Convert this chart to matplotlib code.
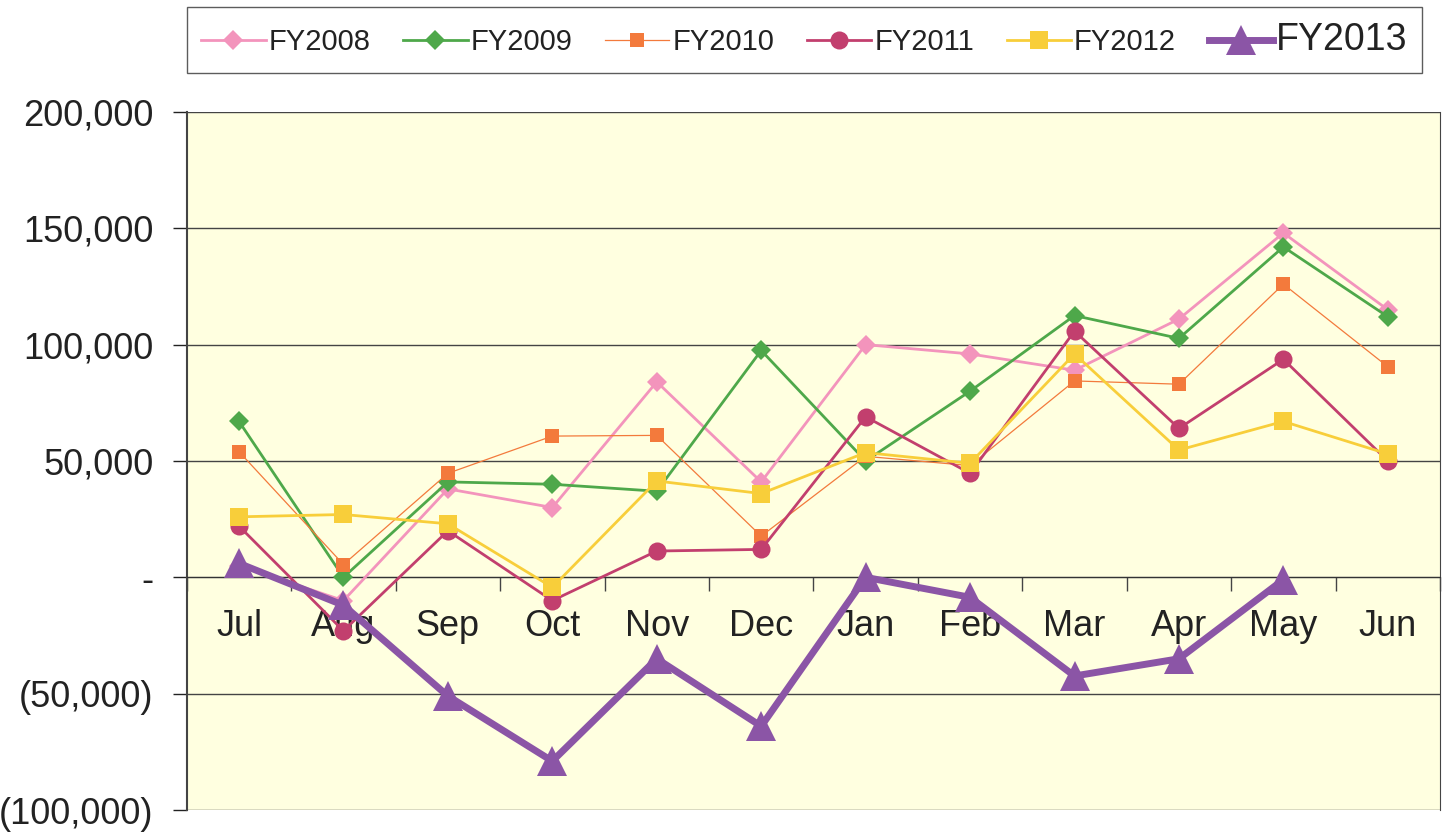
import numpy as np
import matplotlib
matplotlib.use('Agg')
import matplotlib.pyplot as plt
from matplotlib.ticker import FuncFormatter, FixedLocator

plt.rcParams['font.family'] = ['Liberation Sans', 'DejaVu Sans']

months = ['Jul', 'Aug', 'Sep', 'Oct', 'Nov', 'Dec', 'Jan', 'Feb', 'Mar', 'Apr', 'May', 'Jun']

fy2008 = [5000, -10000, 38000, 30000, 84000, 41000, 100000, 96000, 89000, 111000, 148000, 115000]
fy2009 = [67000, 0, 41000, 40000, 37000, 97500, 50000, 80000, 112500, 102700, 142000, 112000]
fy2010 = [54000, 5500, 44700, 60700, 61000, 17700, 52000, 48000, 84400, 83000, 126000, 90500]
fy2011 = [22000, -23000, 20000, -10000, 11300, 12000, 69000, 44700, 105800, 64000, 93700, 50000]
fy2012 = [26000, 27000, 23000, -4300, 41400, 36000, 53600, 49000, 96000, 54700, 67000, 53000]
fy2013 = [6000, -12000, -51000, -79000, -35000, -64000, 0, -8600, -42400, -35000, -1000, np.nan]

x = np.arange(len(months))

fig = plt.figure(figsize=(14.48, 8.33), dpi=100)
ax = fig.add_axes([0.129, 0.0276, 0.8655, 0.838])
ax.set_facecolor('#FFFFE0')

# series: data, label, colour, marker, marker size, line width
series = [
    (fy2008, 'FY2008', '#F394BC', 'D', 10, 2.0),
    (fy2009, 'FY2009', '#4EA84A', 'D', 10, 2.0),
    (fy2010, 'FY2010', '#F37A3C', 's', 10, 0.9),
    (fy2011, 'FY2011', '#C23F6E', 'o', 13, 2.0),
    (fy2012, 'FY2012', '#F8CE3A', 's', 13, 2.0),
    (fy2013, 'FY2013', '#8B55A6', '^', 22, 5.0),
]
for vals, lab, col, mk, ms, lw in series:
    ax.plot(x, vals, color=col, marker=mk, markersize=ms, linewidth=lw,
            markeredgewidth=0, label=lab, zorder=3)

ax.set_xlim(-0.5, 11.5)
ax.set_ylim(-100000, 200000)
ax.set_yticks(np.arange(-100000, 200001, 50000))


def fmt(v, pos):
    if abs(v) < 1:
        return '-'
    if v < 0:
        return '({:,.0f})'.format(-v)
    return '{:,.0f}'.format(v)


ax.yaxis.set_major_formatter(FuncFormatter(fmt))
ax.tick_params(axis='y', labelsize=26, length=10, width=1, colors='#222222', pad=14)
ax.grid(axis='y', color='#444444', linewidth=1.0, zorder=1)

# month labels just under the zero line, tick marks at category boundaries
ax.spines['bottom'].set_position(('data', 0))
ax.xaxis.set_major_locator(FixedLocator(np.arange(-0.5, 12, 1)))
ax.xaxis.set_minor_locator(FixedLocator(x))
ax.set_xticklabels([], minor=False)
ax.set_xticklabels(months, minor=True)
ax.tick_params(axis='x', which='major', direction='out', length=10, width=1, color='#444444')
ax.tick_params(axis='x', which='minor', length=0, labelsize=26, pad=23, labelcolor='#222222')

for s in ['left', 'right', 'top']:
    ax.spines[s].set_color('#444444')
ax.spines['left'].set_linewidth(1.5)
ax.spines['bottom'].set_color('#333333')
ax.spines['top'].set_visible(False)

leg = fig.legend(loc='center', bbox_to_anchor=(0.129, 0.9136, 0.853, 0.0768),
                 mode='expand', ncol=6, fontsize=21, frameon=True, fancybox=False,
                 edgecolor='#333333', handlelength=2.2, handletextpad=0.1,
                 borderaxespad=0, borderpad=0.5, markerscale=1.0)
leg.get_frame().set_linewidth(1.0)
leg.get_texts()[-1].set_fontsize(27)
for t in leg.get_texts():
    t.set_color('#222222')

plt.savefig('out.png', dpi=100)
